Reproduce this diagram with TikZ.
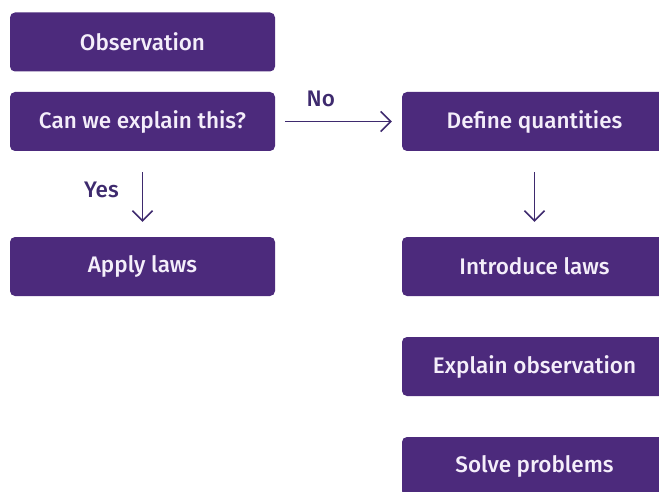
\documentclass[tikz,border=0pt]{standalone}
\usepackage{fontspec}
\setmainfont{Fira Sans}[BoldFont={Fira Sans Medium}]
\usepackage{tikz}
\usetikzlibrary{arrows.meta}
\definecolor{boxpurple}{RGB}{76,42,124}
\definecolor{arrowpurple}{RGB}{62,42,110}
\definecolor{boxtext}{RGB}{244,238,250}

\begin{document}
\begin{tikzpicture}[x=1pt,y=-1pt,font=\fontsize{22.5}{26}\selectfont\bfseries,
    stepbox/.style={fill=boxpurple,text=boxtext,rounded corners=5pt,minimum width=265pt,minimum height=59pt,inner sep=0pt},
    flow/.style={arrowpurple,line width=1.6pt,-{Straight Barb[length=10pt,width=20pt,line width=1.6pt]}},
    answer/.style={text=arrowpurple,inner sep=0pt}]
    \useasboundingbox (0,0) rectangle (659,492);
    \clip (0,0) rectangle (659,492);

    \node[stepbox] (obs) at (142.5,42) {Observation};
    \node[stepbox] (explain) at (142.5,121.5) {Can we explain this?};
    \node[stepbox] (apply) at (142.5,266.5) {Apply laws};

    \node[stepbox] (define) at (534.5,121.5) {Define quantities};
    \node[stepbox] (introduce) at (534.5,266.5) {Introduce laws};
    \node[stepbox] (explainobs) at (534.5,366.5) {Explain observation};
    \node[stepbox] (solve) at (534.5,466.5) {Solve problems};

    \draw[flow,shorten <=10pt,shorten >=10pt] (explain) -- node[answer,pos=0.36,above=14pt] (no) {No} (define);
    \draw[flow,shorten <=21pt,shorten >=15pt] (explain) -- node[answer,pos=0.45,left=23pt] (yes) {Yes} (apply);
    \draw[flow,shorten <=21pt,shorten >=15pt] (define) -- (introduce);
\end{tikzpicture}
\end{document}
